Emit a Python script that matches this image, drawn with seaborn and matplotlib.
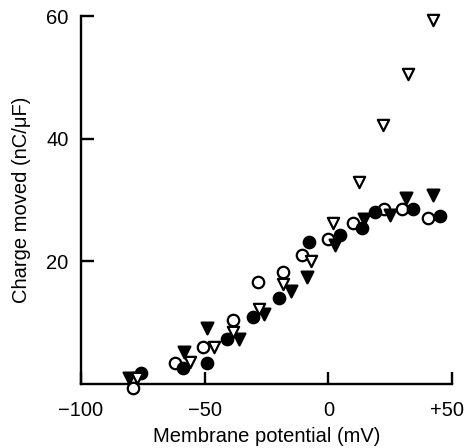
import matplotlib
matplotlib.use("Agg")
import matplotlib.pyplot as plt
import matplotlib.transforms as mtransforms
import seaborn as sns
import pandas as pd

# Data (membrane potential mV, charge nC/uF)
open_circle_x = [-79.1, -62.0, -50.5, -38.7, -28.6, -18.3, -10.6, -0.1, 9.9, 22.4, 29.8, 40.2]
open_circle_y = [-0.7, 3.5, 6.1, 10.5, 16.7, 18.2, 21.0, 23.7, 26.2, 28.6, 28.6, 27.0]

filled_circle_x = [-75.6, -58.6, -49.1, -40.8, -30.5, -20.1, -7.8, 4.6, 13.6, 19.0, 34.3, 45.1]
filled_circle_y = [1.8, 2.6, 3.5, 7.3, 10.9, 14.1, 23.1, 24.3, 25.4, 28.0, 28.5, 27.4]

filled_tri_x = [-80.6, -58.2, -49.1, -36.0, -25.9, -15.1, -8.6, 2.6, 14.3, 25.1, 31.6, 42.4]
filled_tri_y = [0.9, 5.2, 9.1, 7.3, 11.4, 15.1, 17.4, 22.7, 26.9, 27.6, 30.3, 30.8]

open_tri_x = [-77.5, -55.9, -46.4, -38.7, -28.2, -18.3, -7.0, 1.9, 12.3, 22.1, 32.1, 42.4]
open_tri_y = [0.9, 3.6, 6.1, 8.5, 12.3, 16.3, 20.0, 26.3, 33.0, 42.3, 50.6, 59.4]

x_ticks = [-100, -50, 0, 50]
x_tick_labels = ["\u2212100", "\u221250", "0", "+50"]
y_ticks = [20, 40, 60]
y_tick_labels = ["20", "40", "60"]

sns.set_style("white")
plt.rcParams["font.family"] = ["Liberation Sans", "DejaVu Sans"]

fig = plt.figure(figsize=(4.65, 4.48), dpi=100)
ax = fig.add_axes([81/465, 1 - 384/448, (452 - 81)/465, (384 - 16)/448])

series = [
    (open_circle_x, open_circle_y, "o", "white", 68),
    (filled_circle_x, filled_circle_y, "o", "black", 68),
    (filled_tri_x, filled_tri_y, "v", "black", 72),
    (open_tri_x, open_tri_y, "v", "white", 66),
]
for xs, ys, m, fc, s in series:
    df = pd.DataFrame({"x": xs, "y": ys})
    sns.scatterplot(data=df, x="x", y="y", ax=ax, marker=m, s=s,
                    facecolor=fc, edgecolor="black", linewidth=1.6,
                    clip_on=False, zorder=5, legend=False)

ax.set_xlim(-100, 50)
ax.set_ylim(0, 60)
ax.set_xticks(x_ticks)
ax.set_xticklabels(x_tick_labels)
ax.set_yticks(y_ticks)
ax.set_yticklabels(y_tick_labels)

for side in ["top", "right"]:
    ax.spines[side].set_visible(False)
for side in ["left", "bottom"]:
    ax.spines[side].set_linewidth(1.7)
    ax.spines[side].set_color("black")
    ax.spines[side].set_zorder(1)

ax.tick_params(axis="both", which="major", bottom=True, left=True,
               direction="in", length=9, width=1.7,
               color="black", labelcolor="black", labelsize=14.5)
ax.tick_params(axis="x", pad=12)
ax.tick_params(axis="y", pad=9)

# shift the "+50" label slightly left as in the reference
last = ax.get_xticklabels()[-1]
last.set_transform(last.get_transform() +
                   mtransforms.ScaledTranslation(-5/100, 0, fig.dpi_scale_trans))

ax.set_xlabel("Membrane potential (mV)", fontsize=14.5, labelpad=5, color="black")
ax.set_ylabel("Charge moved (nC/\u03bcF)", fontsize=14.5, labelpad=11, color="black")

fig.savefig("out.png", dpi=100)
